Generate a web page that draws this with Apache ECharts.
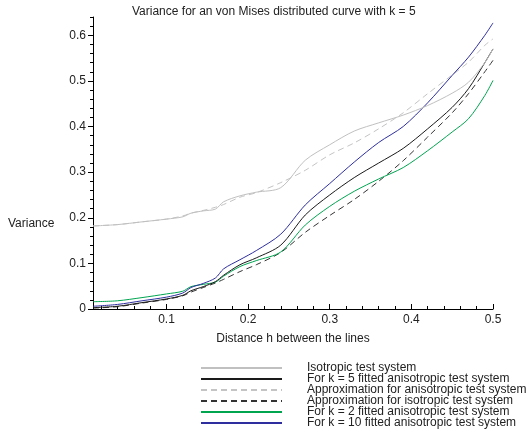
<!doctype html>
<html>
	<head>
		<meta charset="utf-8">
		<title>Variance von Mises</title>
		<script type="text/javascript" src="https://cdn.jsdelivr.net/npm/echarts@6.0.0/dist/echarts.min.js"></script>
	</head>

	<body style="margin:0;padding:0">
		<div id="tb" style="width:530px;height:434px;"></div>
		<script>
			// distance h (x values)
			var hs = [0.01, 0.04, 0.07, 0.10, 0.12, 0.13, 0.145, 0.16, 0.17, 0.19, 0.21, 0.24, 0.27, 0.30, 0.33, 0.36, 0.39, 0.42, 0.45, 0.47, 0.49, 0.50];
			var isotropic = [0.182, 0.185, 0.191, 0.197, 0.202, 0.210, 0.215, 0.219, 0.235, 0.248, 0.256, 0.266, 0.326, 0.360, 0.390, 0.408, 0.425, 0.446, 0.473, 0.497, 0.540, 0.570];
			var k5 = [0.003, 0.006, 0.014, 0.022, 0.030, 0.040, 0.049, 0.060, 0.074, 0.097, 0.112, 0.140, 0.206, 0.250, 0.288, 0.320, 0.352, 0.395, 0.442, 0.483, 0.540, 0.570];
			var approxAniso = [0.182, 0.185, 0.191, 0.197, 0.204, 0.210, 0.216, 0.223, 0.229, 0.245, 0.255, 0.277, 0.304, 0.338, 0.364, 0.395, 0.430, 0.472, 0.513, 0.541, 0.578, 0.592];
			var approxIso = [0.002, 0.005, 0.013, 0.021, 0.029, 0.037, 0.047, 0.057, 0.065, 0.082, 0.097, 0.124, 0.168, 0.205, 0.240, 0.280, 0.325, 0.377, 0.430, 0.472, 0.520, 0.545];
			var k2 = [0.016, 0.018, 0.025, 0.033, 0.039, 0.049, 0.054, 0.059, 0.072, 0.093, 0.106, 0.125, 0.184, 0.225, 0.258, 0.285, 0.310, 0.347, 0.388, 0.417, 0.468, 0.501];
			var k10 = [0.006, 0.010, 0.018, 0.026, 0.035, 0.047, 0.056, 0.068, 0.088, 0.108, 0.128, 0.164, 0.228, 0.275, 0.322, 0.365, 0.400, 0.452, 0.512, 0.552, 0.600, 0.627];

			// tick labels
			var xTicks = [0.1, 0.2, 0.3, 0.4, 0.5];
			var xMinor = [0.02, 0.04, 0.06, 0.08, 0.12, 0.14, 0.16, 0.18, 0.22, 0.24, 0.26, 0.28, 0.32, 0.34, 0.36, 0.38, 0.42, 0.44, 0.46, 0.48];
			var yTicks = [0, 0.1, 0.2, 0.3, 0.4, 0.5, 0.6];
			var yMinor = [0.02, 0.04, 0.06, 0.08, 0.12, 0.14, 0.16, 0.18, 0.22, 0.24, 0.26, 0.28, 0.32, 0.34, 0.36, 0.38, 0.42, 0.44, 0.46, 0.48, 0.52, 0.54, 0.56, 0.58, 0.62, 0.64];

			var names = [
				'Isotropic test system',
				'For k = 5 fitted anisotropic test system',
				'Approximation for anisotropic test system',
				'Approximation for isotropic test system',
				'For k = 2 fitted anisotropic test system',
				'For k = 10 fitted anisotropic test system'
			];

			var font = '"Liberation Sans", Arial, sans-serif';

			function pairs(vals) {
				return hs.map(function(h, i) { return [h, vals[i]]; });
			}
			function line(name, vals, color, type) {
				return {
					name: name,
					type: 'line',
					data: pairs(vals),
					smooth: 0.3,
					symbol: 'none',
					showSymbol: false,
					itemStyle: { color: color },
					lineStyle: { color: color, width: 1, type: type || 'solid' }
				};
			}

			var bt = document.getElementById('tb');
			var btchart = echarts.init(bt);

			var axisText = { color: '#222', fontSize: 12, fontFamily: font };

			btchart.setOption({
				backgroundColor: '#fff',
				animation: false,
				title: {
					text: 'Variance for an von Mises distributed curve with k = 5',
					left: 132,
					top: 6,
					padding: 0,
					textStyle: { color: '#222', fontSize: 12, fontWeight: 'normal', fontFamily: font }
				},
				graphic: [{
					type: 'text',
					left: 8,
					top: 218,
					style: { text: 'Variance', fill: '#222', fontSize: 12, fontFamily: font }
				}],
				grid: { left: 93, right: 37, top: 17, bottom: 125, containLabel: false },
				legend: {
					orient: 'vertical',
					left: 200,
					top: 362,
					padding: 0,
					itemWidth: 81,
					itemHeight: 8,
					itemGap: -1,
					data: names,
					// hide the marker dot, keep only the line
					itemStyle: { opacity: 0 },
					textStyle: { color: '#222', fontSize: 12, lineHeight: 11, fontFamily: font, padding: [0, 0, 0, 20] }
				},
				xAxis: [{
					type: 'value',
					min: 0.01,
					max: 0.5,
					name: 'Distance h between the lines',
					nameLocation: 'middle',
					nameGap: 24,
					nameTextStyle: axisText,
					axisLine: { lineStyle: { color: '#000', width: 1 } },
					axisTick: { inside: true, length: 5, customValues: xTicks, lineStyle: { color: '#000' } },
					axisLabel: { margin: 5, customValues: xTicks, color: '#222', fontSize: 12, fontFamily: font },
					splitLine: { show: false }
				}, {
					type: 'value',
					position: 'bottom',
					min: 0.01,
					max: 0.5,
					axisLine: { show: false },
					axisTick: { inside: true, length: 3, customValues: xMinor, lineStyle: { color: '#000' } },
					axisLabel: { show: false },
					splitLine: { show: false }
				}],
				yAxis: [{
					type: 'value',
					min: 0,
					max: 0.64,
					axisLine: { show: true, lineStyle: { color: '#000', width: 1 } },
					axisTick: { show: true, length: 5, customValues: yTicks, lineStyle: { color: '#000' } },
					axisLabel: { margin: 7, customValues: yTicks, color: '#222', fontSize: 12, fontFamily: font },
					splitLine: { show: false }
				}, {
					type: 'value',
					position: 'left',
					min: 0,
					max: 0.64,
					axisLine: { show: false },
					axisTick: { show: true, length: 3, customValues: yMinor, lineStyle: { color: '#000' } },
					axisLabel: { show: false },
					splitLine: { show: false }
				}],
				series: [
					line(names[2], approxAniso, '#c4c4c4', [6, 4]),
					line(names[3], approxIso, '#333333', [6, 4]),
					line(names[4], k2, '#00a550'),
					line(names[5], k10, '#2e2e9e'),
					line(names[1], k5, '#1a1a1a'),
					line(names[0], isotropic, '#c0c0c0')
				]
			});

			window.onresize = function() {
				btchart.resize();
			};
		</script>
	</body>
</html>
